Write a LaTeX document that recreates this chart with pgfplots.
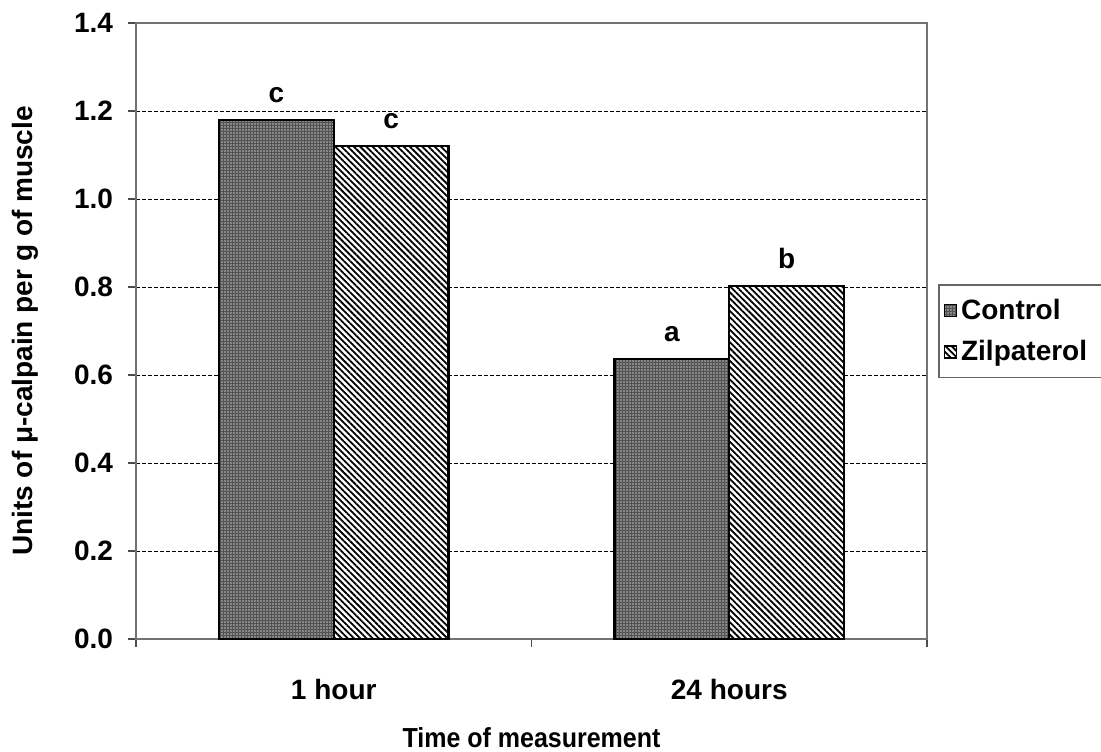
\documentclass[border=0pt]{standalone}
\usepackage{pgfplots}
\pgfplotsset{compat=1.18}
\usepackage{fontspec}
\setmainfont{Liberation Sans}
\usetikzlibrary{patterns.meta}
\begin{document}
\begin{tikzpicture}
\path[use as bounding box] (-68pt,-56pt) rectangle (482.5pt,319.5pt);
\begin{axis}[
  at={(0pt,0pt)}, anchor=south west, scale only axis,
  width=395.5pt, height=308pt,
  xmin=-0.5, xmax=1.5, ymin=0, ymax=1.4,
  ybar,
  axis line style={draw=black!55, line width=0.8pt},
  ytick={0,0.2,0.4,0.6,0.8,1.0,1.2,1.4},
  /pgf/number format/fixed, /pgf/number format/fixed zerofill, /pgf/number format/precision=1,
  /pgf/number format/assume math mode=true,
  tick label style={font=\bfseries\fontsize{14}{16}\selectfont, text=black},
  yticklabel style={xshift=-4pt},
  ymajorgrids, major grid style={black, dashed, dash pattern=on 2pt off 1pt, line width=0.5pt},
  xtick={0,1}, xticklabels={1 hour,24 hours},
  minor xtick={-0.5,0.5,1.5},
  tick align=outside, major tick length=4pt, minor tick length=4pt,
  every tick/.style={black!70, line width=0.6pt},
  major x tick style={draw=none},
  ytick pos=left, xtick pos=bottom,
  xticklabel style={yshift=-12.5pt},
  xlabel={Time of measurement},
  ylabel={Units of μ-calpain per g of muscle},
  xlabel style={font=\bfseries\fontsize{12.5}{14}\selectfont, at={(axis description cs:0.5,-0.1607)}, anchor=center, yscale=1.1},
  ylabel style={font=\bfseries\fontsize{14}{16}\selectfont, at={(axis description cs:-0.1403,0.5)}, anchor=center},
  nodes near coords,
  point meta=explicit symbolic,
  every node near coord/.append style={font=\bfseries\fontsize{14}{16}\selectfont, anchor=south, inner sep=0pt, yshift=8pt, text=black},
  legend style={at={(1.014,0.576)}, anchor=north west, draw=black!60, line width=0.8pt,
    font=\bfseries\fontsize{14}{16}\selectfont, inner xsep=2.5pt, inner ysep=5pt, row sep=5pt,
    cells={anchor=west, text width=74pt}},
  legend cell align=left,
  legend image code/.code={\draw[#1, line width=0.6pt] (0pt,-3pt) rectangle (6pt,3pt);},
]
\addplot[bar width=0.29, bar shift=-0.145, draw=black, line width=1.2pt, fill=black!68,
  postaction={pattern={Dots[distance=1.5pt, radius=0.42pt]}, pattern color=black!25}]
  coordinates {(0,1.18) [c] (1,0.636) [a]};
\addlegendentry{Control}
\addplot[bar width=0.29, bar shift=0.145, draw=black, line width=1.2pt, fill=white,
  postaction={pattern={Lines[angle=-45, distance=2.2pt, line width=0.9pt]}, pattern color=black}]
  coordinates {(0,1.12) [c] (1,0.802) [b]};
\addlegendentry{Zilpaterol}
\end{axis}
\end{tikzpicture}
\end{document}
